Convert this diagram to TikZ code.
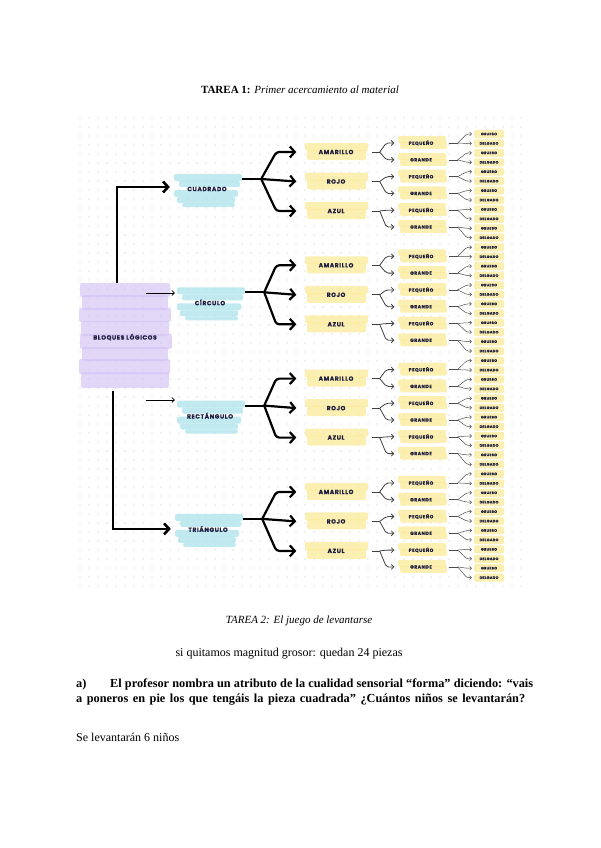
\documentclass[tikz,border=0pt]{standalone}
\usepackage{fontspec}
\setmainfont{Liberation Serif}
\newfontfamily\dfont{Poppins}[LetterSpace=10, BoldFeatures={FakeBold=0.8}]
\usetikzlibrary{arrows.meta,calc}
\definecolor{hlyel}{HTML}{FBEA98}
\definecolor{hlcyan}{HTML}{A6E0EA}
\definecolor{hlpur}{HTML}{D3C1F3}
\definecolor{txtnavy}{HTML}{1E1E40}
\definecolor{dotgray}{HTML}{C8C8C8}
\tikzset{
 lab/.style={font=\dfont\bfseries\fontsize{6}{7}\selectfont, text=txtnavy, inner sep=0pt},
 colnode/.style={lab, minimum width=63pt, minimum height=10pt},
 shapenode/.style={lab, minimum width=70pt, minimum height=12pt},
 sizenode/.style={font=\dfont\bfseries\fontsize{4.6}{5}\selectfont, text=txtnavy, inner sep=0pt, minimum width=49pt, minimum height=8pt},
 kidnode/.style={font=\dfont\bfseries\fontsize{3.5}{4}\selectfont, text=txtnavy, inner sep=0pt, minimum width=30pt, minimum height=6pt},
 trunk/.style={line width=2.6pt, black},
 bigarr/.style={line width=2.2pt, black, rounded corners=3pt, -{Straight Barb[length=5pt,width=11pt]}},
 midarr/.style={line width=0.8pt, black!75, rounded corners=2pt, -{Straight Barb[length=2.5pt,width=5pt]}},
 smallarr/.style={line width=0.5pt, black!70, rounded corners=1.5pt, -{Straight Barb[length=1.8pt,width=3.6pt]}},
 thinarr/.style={line width=0.7pt, black, -{Straight Barb[length=2.5pt,width=5pt]}},
 hy/.style={fill=hlyel, fill opacity=0.75, rounded corners=1.5pt},
 hc/.style={fill=hlcyan, fill opacity=0.7, rounded corners=2pt},
 hp/.style={fill=hlpur, fill opacity=0.65, rounded corners=2pt},
 doc/.style={inner sep=0pt, anchor=base west, font=\fontsize{12}{14}\selectfont},
 bdoc/.style={inner sep=0pt, anchor=base west, font=\fontsize{12.3}{14}\selectfont\bfseries},
}
\begin{document}
\begin{tikzpicture}[x=1pt,y=-1pt]
\useasboundingbox (0,0) rectangle (600,848);
% dotted background
\foreach \i in {0,...,49}{\foreach \j in {0,...,52}{\fill[dotgray] (80+9*\i,118+9*\j) circle (0.6);}}
% title
\node[inner sep=0pt, anchor=base] (title) at (300,94) {\fontsize{11}{13}\selectfont\textbf{TAREA 1:} \textit{Primer acercamiento al material}};
% root: purple highlight
\foreach \a/\b/\c/\d in {80/283/170/297, 82/295/168/310, 79/308/171/322, 81/321/169/336, 80/334/172/349, 82/347/168/361, 79/359/170/374, 81/372/169/388}{
  \fill[hp] (\a,\b) rectangle (\c,\d);}
\node[lab, minimum width=90pt, minimum height=107pt] (bl) at (125,337) {BLOQUES LÓGICOS};
% groups
\foreach \g/\lab/\tx in {0/CUADRADO/207,1/CÍRCULO/210,2/RECTÁNGULO/210,3/TRIÁNGULO/208}{
  \pgfmathsetmacro\ty{189+113.3*\g}
  \fill[hc] (\tx-33,\ty-15) rectangle (\tx+35,\ty-8);
  \fill[hc] (\tx-28,\ty-8) rectangle (\tx+33,\ty-2);
  \fill[hc] (\tx-33,\ty+1) rectangle (\tx+31,\ty+8);
  \fill[hc] (\tx-30,\ty+8) rectangle (\tx+28,\ty+14);
  \fill[hc] (\tx-25,\ty+14) rectangle (\tx+28,\ty+18);
  \node[shapenode] (s\g) at (\tx,\ty) {\lab};
  \draw[line width=2.2pt] ([yshift=10pt]s\g.east) -- ++(19,0) coordinate (js\g);
  \foreach \k/\col in {0/AMARILLO,1/ROJO,2/AZUL}{
    \pgfmathsetmacro\cy{152+113.3*\g+29.5*\k}
    \fill[hy] (305,\cy-9) rectangle (368,\cy-1);
    \fill[hy] (307,\cy-2) rectangle (366,\cy+8);
    \node[colnode] (c\g\k) at (336,\cy) {\col};
  }
  \draw[bigarr] (js\g) -- ([xshift=-28pt]c\g0.west) -- ([xshift=-8pt]c\g0.west);
  \draw[bigarr] (js\g) -- ([xshift=-8pt]c\g1.west);
  \draw[bigarr] (js\g) -- ([xshift=-28pt]c\g2.west) -- ([xshift=-8pt]c\g2.west);
  \foreach \m in {0,...,5}{
    \pgfmathsetmacro\sy{143+113.3*\g+16.8*\m}
    \pgfmathtruncatemacro\pp{mod(\m,2)}
    \fill[hy] (398,\sy-7) rectangle (446,\sy);
    \fill[hy] (400,\sy-1) rectangle (447,\sy+6);
    \ifnum\pp=0 \node[sizenode] (z\g\m) at (421,\sy) {PEQUEÑO};
    \else \node[sizenode] (z\g\m) at (421,\sy) {GRANDE};\fi
  }
  \foreach \k in {0,1,2}{
    \pgfmathtruncatemacro\ma{2*\k}
    \pgfmathtruncatemacro\mb{2*\k+1}
    \draw[line width=0.8pt, black!75] ([xshift=4pt]c\g\k.east) -- ++(8,0) coordinate (jc\g\k);
    \draw[midarr] (jc\g\k) -- ([xshift=-10pt]z\g\ma.west) -- ([xshift=-2pt]z\g\ma.west);
    \draw[midarr] (jc\g\k) -- ([xshift=-10pt]z\g\mb.west) -- ([xshift=-2pt]z\g\mb.west);
  }
  \foreach \n in {0,...,11}{
    \pgfmathsetmacro\ky{134+113.3*\g+9.43*\n}
    \pgfmathtruncatemacro\pp{mod(\n,2)}
    \fill[hy] (474,\ky-4) rectangle (504,\ky+4);
    \ifnum\pp=0 \node[kidnode] (k\g\n) at (489,\ky) {GRUESO};
    \else \node[kidnode] (k\g\n) at (489,\ky) {DELGADO};\fi
  }
  \foreach \m in {0,...,5}{
    \pgfmathtruncatemacro\na{2*\m}
    \pgfmathtruncatemacro\nb{2*\m+1}
    \draw[line width=0.5pt, black!70] ([xshift=3pt]z\g\m.east) -- ++(9,0) coordinate (jz\g\m);
    \draw[smallarr] (jz\g\m) -- ([xshift=-7pt]k\g\na.west) -- ([xshift=-2pt]k\g\na.west);
    \draw[smallarr] (jz\g\m) -- ([xshift=-7pt]k\g\nb.west) -- ([xshift=-2pt]k\g\nb.west);
  }
}
% trunk
\draw[trunk, -{Straight Barb[length=5pt,width=11pt]}] ([xshift=-8pt]bl.north) |- ([xshift=-2pt,yshift=2pt]s0.west);
\draw[trunk, -{Straight Barb[length=5pt,width=11pt]}] ([xshift=-12pt]bl.south) |- ([xshift=-2pt]s3.west);
\coordinate (a1) at (146,293);
\coordinate (a2) at (146,400);
\draw[thinarr] (a1) -- (a1 -| s1.west);
\draw[thinarr] (a2) -- (a2 -| s2.west);
% text below
\node[inner sep=0pt, anchor=base] (t2) at (299,623) {\fontsize{11}{13}\selectfont\itshape TAREA 2: El juego de levantarse};
\node[inner sep=0pt, anchor=base] (q) at (289,656) {\fontsize{12}{14}\selectfont si quitamos magnitud grosor: quedan 24 piezas};
\node[bdoc] (pa) at (76,687) {a)};
\node[bdoc] (l1) at (110,687) {\makebox[423pt][s]{El profesor nombra un atributo de la cualidad sensorial “forma” diciendo: “vais}};
\node[bdoc] (l2) at (76,702) {\makebox[449pt][s]{a poneros en pie los que tengáis la pieza cuadrada” ¿Cuántos niños se levantarán?}};
\node[doc] (ans) at (76,741) {Se levantarán 6 niños};
\end{tikzpicture}
\end{document}
